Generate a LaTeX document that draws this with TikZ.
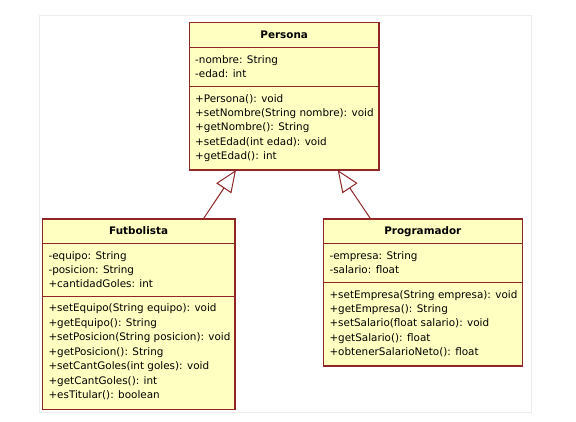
\documentclass[tikz,border=0pt]{standalone}
\usepackage{fontspec}
\setmainfont{DejaVu Sans}
\usetikzlibrary{arrows.meta}
\definecolor{umlborder}{RGB}{144,38,38}
\definecolor{umlfill}{RGB}{255,255,194}
\definecolor{framegray}{RGB}{236,236,236}
\tikzset{
  cls/.style={draw=umlborder, fill=umlfill, line width=1.2pt, rectangle, inner sep=0pt, outer sep=0pt, anchor=north west},
  sepline/.style={draw=umlborder, line width=1.1pt},
  ttl/.style={anchor=base, inner sep=0pt, font=\fontsize{10.4}{12}\selectfont\bfseries},
  mem/.style={anchor=base west, inner sep=0pt, font=\fontsize{10.4}{12}\selectfont},
  inh/.style={draw=umlborder, line width=1pt, -{Triangle[open, length=22pt, width=18pt]}},
}
\begin{document}
\begin{tikzpicture}[x=1pt, y=-1pt]
\useasboundingbox (0,0) rectangle (576,421);
\draw[framegray, line width=0.8pt] (39,15) rectangle (531,412);

% Persona
\node[cls, minimum width=189.7pt, minimum height=147.3pt] (per) at (189.3,22.7) {};
\draw[sepline] ([yshift=-24.6pt]per.north west) -- ([yshift=-24.6pt]per.north east);
\draw[sepline] ([yshift=-63.6pt]per.north west) -- ([yshift=-63.6pt]per.north east);
\node[ttl] (per-t) at (284.2,38.8) {Persona};
\node[mem] (per-a1) at (195,63.6) {-nombre: String};
\node[mem] (per-a2) at (195,77.6) {-edad: int};
\node[mem] (per-m1) at (195,102.3) {+Persona(): void};
\node[mem] (per-m2) at (195,116.6) {+setNombre(String nombre): void};
\node[mem] (per-m3) at (195,130.9) {+getNombre(): String};
\node[mem] (per-m4) at (195,145.2) {+setEdad(int edad): void};
\node[mem] (per-m5) at (195,159.5) {+getEdad(): int};

% Futbolista
\node[cls, minimum width=192.7pt, minimum height=190.3pt] (fut) at (42.3,219) {};
\draw[sepline] ([yshift=-24.3pt]fut.north west) -- ([yshift=-24.3pt]fut.north east);
\draw[sepline] ([yshift=-77.7pt]fut.north west) -- ([yshift=-77.7pt]fut.north east);
\node[ttl] (fut-t) at (138.6,234.8) {Futbolista};
\node[mem] (fut-a1) at (48.3,259.3) {-equipo: String};
\node[mem] (fut-a2) at (48.3,273.5) {-posicion: String};
\node[mem] (fut-a3) at (48.3,287.7) {+cantidadGoles: int};
\node[mem] (fut-m1) at (48.3,311.6) {+setEquipo(String equipo): void};
\node[mem] (fut-m2) at (48.3,326.1) {+getEquipo(): String};
\node[mem] (fut-m3) at (48.3,340.6) {+setPosicion(String posicion): void};
\node[mem] (fut-m4) at (48.3,355.1) {+getPosicion(): String};
\node[mem] (fut-m5) at (48.3,369.6) {+setCantGoles(int goles): void};
\node[mem] (fut-m6) at (48.3,384.1) {+getCantGoles(): int};
\node[mem] (fut-m7) at (48.3,398.6) {+esTitular(): boolean};

% Programador
\node[cls, minimum width=199pt, minimum height=147pt] (pro) at (323.3,219) {};
\draw[sepline] ([yshift=-24.3pt]pro.north west) -- ([yshift=-24.3pt]pro.north east);
\draw[sepline] ([yshift=-63.3pt]pro.north west) -- ([yshift=-63.3pt]pro.north east);
\node[ttl] (pro-t) at (422.8,234.8) {Programador};
\node[mem] (pro-a1) at (329.3,259.3) {-empresa: String};
\node[mem] (pro-a2) at (329.3,273.5) {-salario: float};
\node[mem] (pro-m1) at (329.3,298.3) {+setEmpresa(String empresa): void};
\node[mem] (pro-m2) at (329.3,312.6) {+getEmpresa(): String};
\node[mem] (pro-m3) at (329.3,326.9) {+setSalario(float salario): void};
\node[mem] (pro-m4) at (329.3,341.2) {+getSalario(): float};
\node[mem] (pro-m5) at (329.3,355.5) {+obtenerSalarioNeto(): float};

% Generalizations
\coordinate (fut-up) at ([xshift=161pt]fut.north west);
\coordinate (per-dl) at ([xshift=46.7pt]per.south west);
\coordinate (pro-up) at ([xshift=47.4pt]pro.north west);
\coordinate (per-dr) at ([xshift=148.4pt]per.south west);
\draw[inh] (fut-up) -- (per-dl);
\draw[inh] (pro-up) -- (per-dr);
\end{tikzpicture}
\end{document}
